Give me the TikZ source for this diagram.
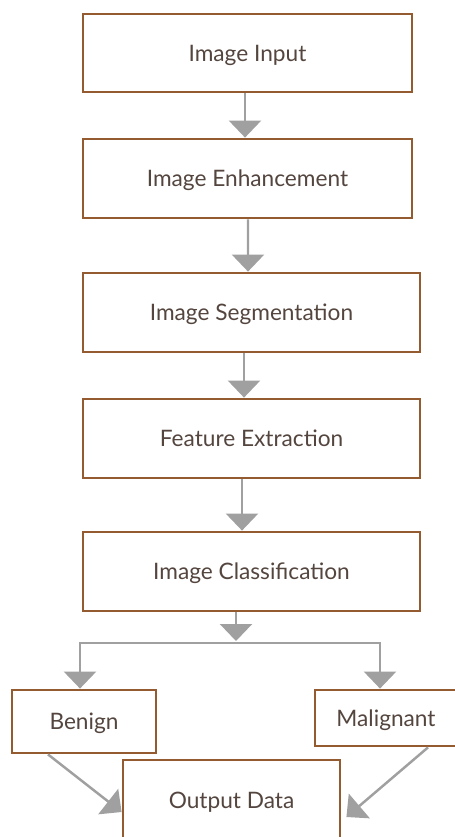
\documentclass[tikz,border=0pt]{standalone}
\usepackage{fontspec}
\setmainfont{Lato}
\usetikzlibrary{arrows.meta,positioning}
\usepackage{xcolor}

\definecolor{boxbrown}{HTML}{945A30}
\definecolor{txtgray}{HTML}{54463F}
\definecolor{arrgray}{HTML}{A0A0A0}

\tikzset{
    stage/.style={draw=boxbrown, line width=1.6pt, fill=white, text=txtgray,
        inner sep=0pt, text depth=0pt, font=\fontsize{12.9}{14}\selectfont},
    arr/.style={draw=arrgray, line width=1.4pt,
        -{Triangle[width=32*0.02cm, length=17*0.02cm]}}
}

\begin{document}
\begin{tikzpicture}[x=0.02cm, y=-0.02cm]
            \useasboundingbox (0,0) rectangle (455,837);

            \node[stage, minimum width=329*0.02cm, minimum height=78*0.02cm] (input) at (247.5,53) {Image Input};
            \node[stage, minimum width=329*0.02cm, minimum height=79*0.02cm] (enhance) at (247.5,178.5) {Image Enhancement};
            \node[stage, minimum width=337*0.02cm, minimum height=79*0.02cm] (segment) at (251.5,312.5) {Image Segmentation};
            \node[stage, minimum width=337*0.02cm, minimum height=79*0.02cm] (feature) at (251.5,438.5) {Feature Extraction};
            \node[stage, minimum width=337*0.02cm, minimum height=79*0.02cm] (classify) at (251.5,571.5) {Image Classification};
            \node[stage, minimum width=144*0.02cm, minimum height=63*0.02cm] (benign) at (84,721.5) {Benign};
            \node[stage, minimum width=142*0.02cm, minimum height=56*0.02cm] (malignant) at (386,718) {Malignant};
            \node[stage, minimum width=217*0.02cm, minimum height=80*0.02cm] (output) at (231.5,800) {Output Data};

            \coordinate (fork) at (236,643);

            \draw[arr] ([xshift=-2.5*0.02cm]input.south) -- ([xshift=-2.5*0.02cm]enhance.north);
            \draw[arr] ([xshift=0.5*0.02cm]enhance.south) -- ([xshift=-3.5*0.02cm]segment.north);
            \draw[arr] ([xshift=-7.5*0.02cm]segment.south) -- ([xshift=-7.5*0.02cm]feature.north);
            \draw[arr] ([xshift=-9.5*0.02cm]feature.south) -- ([xshift=-9.5*0.02cm]classify.north);
            \draw[arr] (classify.south -| fork) -- ([yshift=2*0.02cm]fork);

            \draw[arr] (fork) -| ([xshift=-4*0.02cm]benign.north);
            \draw[arr] (fork) -| ([xshift=-6*0.02cm]malignant.north);

            \draw[arr] ([xshift=-36*0.02cm]benign.south) -- ([yshift=-12*0.02cm]output.west);
            \draw[arr] ([xshift=42*0.02cm]malignant.south) -- ([xshift=5*0.02cm,yshift=-17*0.02cm]output.east);
        \end{tikzpicture}
\end{document}
